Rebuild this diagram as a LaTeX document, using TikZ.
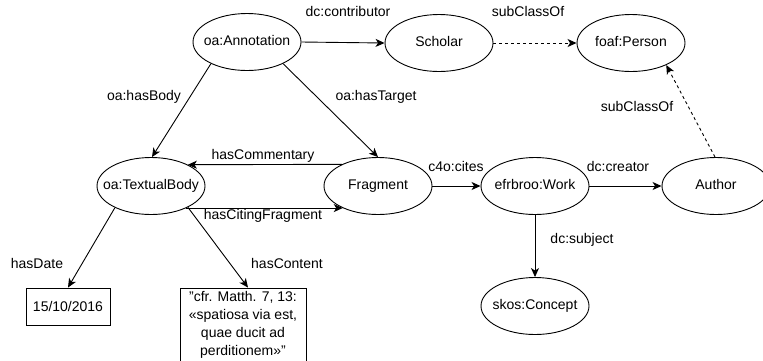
\documentclass[tikz,border=0pt]{standalone}
\usepackage{fontspec}
\setmainfont{Liberation Sans}
\usetikzlibrary{arrows.meta,shapes.geometric}

\begin{document}
\begin{tikzpicture}[x=1pt,y=-1pt,
  font=\fontsize{14}{18}\selectfont,
  cls/.style={ellipse, draw, line width=0.9pt, inner sep=0pt,
    minimum width=108pt, minimum height=57pt, text height=10pt, text depth=3pt},
  lit/.style={rectangle, draw, line width=0.9pt, inner sep=0pt},
  rel/.style={-{Stealth[length=9pt,width=8pt,inset=2.5pt]}, line width=0.9pt},
  sub/.style={rel, dash pattern=on 3pt off 3pt},
  lbl/.style={inner sep=0pt, text height=10pt, text depth=3pt}]
\useasboundingbox (0,0) rectangle (763,360);

% classes
\node[cls] (ann)  at (247,42)  {\makebox[0pt]{oa:Annotation}};
\node[cls] (sch)  at (439,43)  {\makebox[0pt]{Scholar}};
\node[cls] (per)  at (631,43)  {\makebox[0pt]{foaf:Person}};
\node[cls] (tb)   at (151,186) {\makebox[0pt]{oa:TextualBody}};
\node[cls] (frag) at (378,186) {\makebox[0pt]{Fragment}};
\node[cls] (work) at (535,186) {\makebox[0pt]{efrbroo:Work}};
\node[cls] (auth) at (716,186) {\makebox[0pt]{Author}};
\node[cls] (skos) at (535,306) {\makebox[0pt]{skos:Concept}};

% literals
\node[lit, minimum width=84pt, minimum height=37pt] (date) at (68,306.5) {15/10/2016};
\node[lit, minimum width=126pt, minimum height=74pt, align=center] (content) at (243,325)
  {"cfr. Matth. 7, 13:\\«spatiosa via est,\\quae ducit ad\\perditionem»"};

% relations
\draw[rel] (ann.east) -- (sch.west);
\draw[sub] (sch.east) -- (per.west);
\draw[rel] (ann.211) -- (tb.88);
\draw[rel] (ann.329) -- (frag.90);
\draw[rel] (frag.149.5) -- (tb.30.5);
\draw[rel] (tb.328) -- (frag.212);
\draw[rel] (frag.east) -- (work.west);
\draw[rel] (work.east) -- (auth.west);
\draw[sub] (auth.92) -- (per.328);
\draw[rel] (work.south) -- (skos.north);
\draw[rel] (tb.211) -- (date.north);
\draw[rel] (tb.330) -- ([xshift=5pt]content.north);

% relation labels
\node[lbl] (l-contrib) at (348,13)  {dc:contributor};
\node[lbl] (l-sub1)    at (528,13)  {subClassOf};
\node[lbl] (l-body)    at (144,97)  {oa:hasBody};
\node[lbl] (l-target)  at (376,97)  {oa:hasTarget};
\node[lbl] (l-sub2)    at (637,108) {subClassOf};
\node[lbl] (l-comm)    at (263,156) {hasCommentary};
\node[lbl] (l-citing)  at (263,216) {hasCitingFragment};
\node[lbl] (l-cites)   at (456,168) {c4o:cites};
\node[lbl] (l-creator) at (618,168) {dc:creator};
\node[lbl] (l-subject) at (582,240) {dc:subject};
\node[lbl] (l-date)    at (37,265)  {hasDate};
\node[lbl] (l-content) at (287,265) {hasContent};
\end{tikzpicture}
\end{document}
